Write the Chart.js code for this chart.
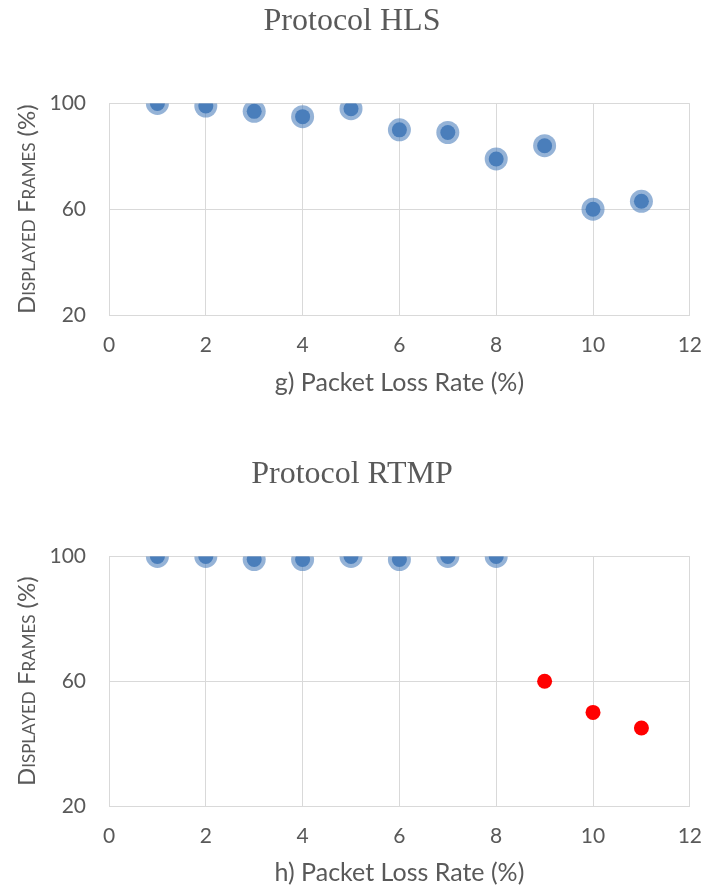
<!DOCTYPE html>
<html>
<head>
<meta charset="utf-8">
<script src="https://cdn.jsdelivr.net/npm/chart.js@4/dist/chart.umd.min.js"></script>
<style>
  html, body { margin: 0; padding: 0; background: #fff; }
  #wrap { position: relative; width: 704px; height: 892px; }
  canvas { position: absolute; left: 0; }
  #hls { top: 0; }
  #rtmp { top: 440px; }
</style>
</head>
<body>
<div id="wrap">
  <canvas id="hls" width="704" height="420"></canvas>
  <canvas id="rtmp" width="704" height="452"></canvas>
</div>
<script>
const lossRates = [1, 2, 3, 4, 5, 6, 7, 8, 9, 10, 11];
const hlsFrames = [100, 99, 97, 95, 98, 90, 89, 79, 84, 60, 63];

const rtmpLossOk = [1, 2, 3, 4, 5, 6, 7, 8];
const rtmpFramesOk = [100, 100, 99, 99, 100, 99, 100, 100];
const rtmpLossBad = [9, 10, 11];
const rtmpFramesBad = [60, 50, 45];

const xTicks = [0, 2, 4, 6, 8, 10, 12];
const yTicks = [20, 60, 100];

const BLUE = '#4a7ebb';
const HALO = 'rgba(79, 129, 189, 0.6)';
const RED = '#ff0000';
const GRID = '#d9d9d9';
const TEXT = '#595959';

const pts = (xs, ys) => xs.map((x, i) => ({ x, y: ys[i] }));

function scatterOptions(title, xTitle, pad) {
  return {
    responsive: false,
    animation: false,
    events: [],
    layout: { padding: { left: 0, right: 0, top: 0, bottom: pad.bottom } },
    scales: {
      x: {
        type: 'linear',
        min: 0,
        max: 12,
        afterBuildTicks: (axis) => { axis.ticks = xTicks.map((v) => ({ value: v })); },
        // chart.js doubles the tick padding when sizing, so pin the axis height
        afterFit: (axis) => { axis.height = pad.xHeight; },
        grid: { color: GRID, drawTicks: false },
        border: { color: GRID },
        // small padding keeps the right overhang tight; tall line box pushes labels down
        ticks: { color: TEXT, padding: 2, font: { family: 'Lato', size: 21, lineHeight: 2.67 } },
        title: {
          display: true,
          text: xTitle,
          color: TEXT,
          font: { family: 'Lato', size: 25 },
          padding: { top: 0, bottom: 0 }
        }
      },
      y: {
        min: 20,
        max: 100,
        afterBuildTicks: (axis) => { axis.ticks = yTicks.map((v) => ({ value: v })); },
        afterFit: (axis) => { axis.width = 109; },
        grid: { color: GRID, drawTicks: false },
        border: { color: GRID },
        ticks: { color: TEXT, padding: 23, font: { family: 'Lato', size: 21 } },
        title: {
          display: true,
          text: 'Displayed Frames (%)',
          color: TEXT,
          // weight slot carries the small-caps variant into the canvas font string
          font: { family: 'Lato', size: 24, weight: 'small-caps' },
          padding: { top: 13, bottom: 0 }
        }
      }
    },
    plugins: {
      legend: { display: false },
      tooltip: { enabled: false },
      title: {
        display: true,
        text: title,
        color: TEXT,
        font: { family: 'Liberation Serif', size: 32, weight: 'normal' },
        padding: { top: pad.titleTop, bottom: pad.titleBottom }
      }
    }
  };
}

new Chart(document.getElementById('hls'), {
  type: 'scatter',
  data: {
    datasets: [
      { label: 'HLS', data: pts(lossRates, hlsFrames), pointRadius: 7.5, backgroundColor: BLUE, borderWidth: 0 },
      { label: 'HLS halo', data: pts(lossRates, hlsFrames), pointRadius: 11.5, backgroundColor: HALO, borderWidth: 0 }
    ]
  },
  options: scatterOptions('Protocol HLS', 'g) Packet Loss Rate (%)', {
    titleTop: 2, titleBottom: 63, xHeight: 83, bottom: 22
  })
});

new Chart(document.getElementById('rtmp'), {
  type: 'scatter',
  data: {
    datasets: [
      { label: 'RTMP', data: pts(rtmpLossOk, rtmpFramesOk), pointRadius: 7.5, backgroundColor: BLUE, borderWidth: 0 },
      { label: 'RTMP halo', data: pts(rtmpLossOk, rtmpFramesOk), pointRadius: 11.5, backgroundColor: HALO, borderWidth: 0 },
      { label: 'RTMP degraded', data: pts(rtmpLossBad, rtmpFramesBad), pointRadius: 7.5, backgroundColor: RED, borderWidth: 0 }
    ]
  },
  options: scatterOptions('Protocol RTMP', 'h) Packet Loss Rate (%)', {
    titleTop: 15, titleBottom: 63, xHeight: 82, bottom: 4
  })
});
</script>
</body>
</html>
